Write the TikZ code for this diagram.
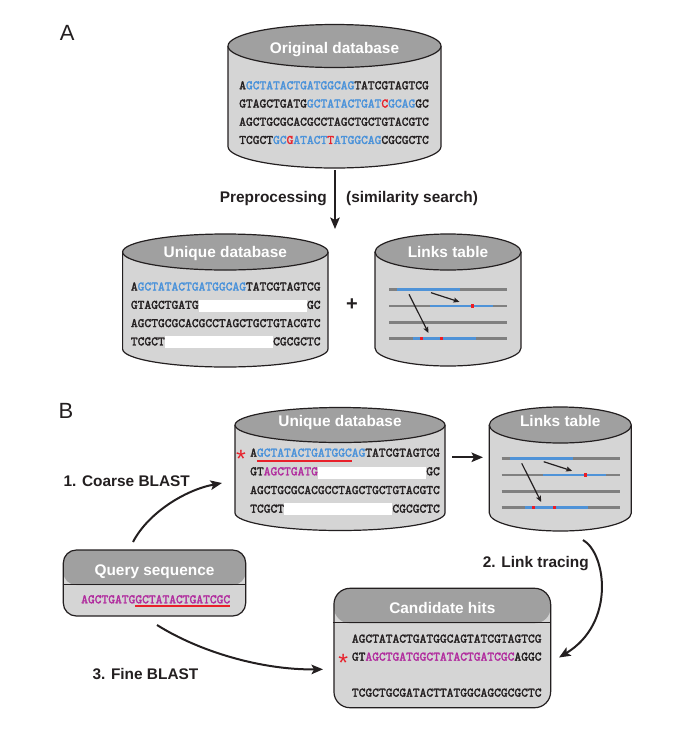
\documentclass[tikz,border=0pt]{standalone}
\usepackage{fontspec}
\setmainfont{Liberation Sans}
\newfontfamily\seqfont{lmmono10-regular.otf}[FakeBold=2.2]
\usetikzlibrary{arrows.meta}
\definecolor{bodyc}{HTML}{D5D5D5}
\definecolor{hdrc}{HTML}{A0A0A0}
\definecolor{outc}{HTML}{231F20}
\definecolor{seqblue}{HTML}{4A92DA}
\definecolor{seqred}{HTML}{E8202A}
\definecolor{seqmag}{HTML}{B12C9E}
\definecolor{lkgrey}{HTML}{808080}
\definecolor{lkblue}{HTML}{4F93D8}
\definecolor{lkred}{HTML}{ED1C24}
\tikzset{
  seq/.style={font=\seqfont\fontsize{12.9}{14}\selectfont, inner sep=0pt, anchor=base west, text=outc},
  ttl/.style={font=\bfseries\fontsize{15.4}{17}\selectfont, text=white, inner sep=0pt, anchor=base},
  lbl/.style={font=\bfseries\fontsize{15.4}{17}\selectfont, text=outc, inner sep=0pt},
  panel/.style={font=\fontsize{22}{24}\selectfont, text=outc, inner sep=0pt, anchor=base},
  star/.style={font=\fontsize{25}{27}\selectfont, text=seqred, inner sep=0pt, anchor=base},
  bigarrow/.style={line width=2pt, draw=outc, -{Stealth[length=11.5pt,width=9.5pt,inset=2.5pt]}},
  smallarrow/.style={line width=1.2pt, draw=outc, -{Stealth[length=6pt,width=5pt,inset=1pt]}},
  gapbar/.style={fill=white, draw=none},
  cylout/.style={draw=outc, line width=1.2pt},
  lkline/.style={line width=2.8pt},
  hitbox/.style={draw=outc, line width=1.2pt, fill=bodyc, inner sep=0pt,
    path picture={\fill[hdrc] ([yshift=2pt]path picture bounding box.north west) rectangle ([yshift=-35pt]path picture bounding box.north east);}},
}
% cx, ytop, ybot, rx, ry
\newcommand{\dbcyl}[5]{%
  \fill[bodyc] ({#1-#4},#2) -- ({#1-#4},#3) arc[start angle=180,end angle=360,x radius=#4pt,y radius=#5pt] -- ({#1+#4},#2) -- cycle;
  \draw[cylout] ({#1-#4},#2) -- ({#1-#4},#3) arc[start angle=180,end angle=360,x radius=#4pt,y radius=#5pt] -- ({#1+#4},#2);
  \filldraw[cylout, fill=hdrc] (#1,#2) ellipse[x radius=#4pt,y radius=#5pt];
}
\newcommand{\linksdraw}[2]{%
  \begin{scope}[shift={(#1,#2)}]
    \foreach \yy in {289.3,306,322.3,338.7} {\draw[lkgrey,lkline] (389,\yy) -- (507.3,\yy);}
    \draw[lkblue,lkline] (397.3,289.3) -- (460,289.3);
    \draw[lkblue,lkline] (430,306) -- (493.3,306);
    \draw[lkblue,lkline] (412.7,338.7) -- (475.7,338.7);
    \fill[lkred] (471.2,304.4) rectangle (474.4,307.6);
    \fill[lkred] (419.5,337.1) rectangle (422.7,340.3);
    \fill[lkred] (439.8,337.1) rectangle (443,340.3);
    \draw[smallarrow] (431,292.7) -- (459.5,301.9);
    \draw[smallarrow] (409,294.3) -- (428.5,333);
  \end{scope}
}
\newcommand{\gapA}{\phantom{AAAAAAAAAAAAAAAA}}
\begin{document}
\begin{tikzpicture}[x=1pt,y=-1pt]
\useasboundingbox (0,0) rectangle (687,729);

% ---------- Panel A ----------
\node[panel] (labA) at (67.3,40) {A};

\dbcyl{334.5}{46}{146.5}{106.5}{21.5}
\node[ttl] (origT) at (334.5,53) {Original database};
\node[seq] (o1) at (239,89.3) {A\textcolor{seqblue}{GCTATACTGATGGCAG}TATCGTAGTCG};
\node[seq] (o2) at (239,107.5) {GTAGCTGATG\textcolor{seqblue}{GCTATACTGAT}\textcolor{seqred}{C}\textcolor{seqblue}{GCAG}GC};
\node[seq] (o3) at (239,125.7) {AGCTGCGCACGCCTAGCTGCTGTACGTC};
\node[seq] (o4) at (239,143.9) {TCGCT\textcolor{seqblue}{GC}\textcolor{seqred}{G}\textcolor{seqblue}{ATACT}\textcolor{seqred}{T}\textcolor{seqblue}{ATGGCAG}CGCGCTC};

\coordinate (pp1) at (335,170);
\coordinate (pp2) at (335,229);
\draw[bigarrow] (pp1) -- (pp2);
\node[lbl, anchor=base east] (ppL) at (327,202.5) {Preprocessing};
\node[lbl, anchor=base west] (ppR) at (346,202.5) {(similarity search)};

\dbcyl{225.3}{252}{349}{102.7}{18}
\node[ttl] (uaT) at (225.3,257) {Unique database};
\fill[gapbar] (198.5,300) rectangle (307.2,311.8);
\fill[gapbar] (164.6,335.8) rectangle (273.4,347.5);
\node[seq] (ua1) at (130.7,290.5) {A\textcolor{seqblue}{GCTATACTGATGGCAG}TATCGTAGTCG};
\node[seq] (ua2) at (130.7,308.8) {GTAGCTGATG\gapA GC};
\node[seq] (ua3) at (130.7,327.1) {AGCTGCGCACGCCTAGCTGCTGTACGTC};
\node[seq] (ua4) at (130.7,345.4) {TCGCT\gapA CGCGCTC};

\node[lbl, font=\bfseries\fontsize{20}{22}\selectfont] (plus) at (352,305) {+};

\dbcyl{448}{252}{348}{73}{18}
\node[ttl] (laT) at (448,257) {Links table};
\linksdraw{0}{0}

% ---------- Panel B ----------
\node[panel] (labB) at (66,418) {B};

\dbcyl{340}{425}{513}{105}{17.5}
\node[ttl] (ubT) at (340,426) {Unique database};
\fill[gapbar] (317.8,466.9) rectangle (426.4,478.5);
\fill[gapbar] (283.9,503.4) rectangle (392.4,515.2);
\node[star] (ast1) at (241,467.5) {*};
\node[seq] (ub1) at (250,456.6) {A\textcolor{seqblue}{GCTATACTGATGGCAG}TATCGTAGTCG};
\draw[seqred, line width=1.5pt] (256.8,461) -- (351.6,461);
\node[seq] (ub2) at (250,475.3) {GT\textcolor{seqmag}{AGCTGATG}\gapA GC};
\node[seq] (ub3) at (250,494) {AGCTGCGCACGCCTAGCTGCTGTACGTC};
\node[seq] (ub4) at (250,512.6) {TCGCT\gapA CGCGCTC};

\dbcyl{560.3}{425}{513}{71}{18}
\node[ttl] (lbT) at (560.3,426) {Links table};
\linksdraw{112.7}{169}

\coordinate (ubE) at (452,457.3);
\coordinate (lbW) at (483,457.3);
\draw[bigarrow] (ubE) -- (lbW);

% Query sequence box
\node[hitbox, rounded corners=13pt, minimum width=182.4pt, minimum height=66pt] (query) at (154.5,583) {};
\draw[outc, line width=1.2pt] ([yshift=-35pt]query.north west) -- ([yshift=-35pt]query.north east);
\node[ttl] (qT) at (154.5,575) {Query sequence};
\node[seq] (q1) at (81,603.3) {\textcolor{seqmag}{AGCTGATGGCTATACTGATCGC}};
\draw[seqred, line width=1.5pt] (135.2,605.8) -- (230.2,605.8);

% Candidate hits box
\node[hitbox, rounded corners=16pt, minimum width=216.7pt, minimum height=119.4pt] (cand) at (442.3,648) {};
\draw[outc, line width=1.2pt] ([yshift=-35pt]cand.north west) -- ([yshift=-35pt]cand.north east);
\node[ttl] (cT) at (442.3,613) {Candidate hits};
\node[seq] (c1) at (351.7,642.6) {AGCTATACTGATGGCAGTATCGTAGTCG};
\node[star] (ast2) at (343.3,671) {*};
\node[seq] (c2) at (351.7,660.6) {GT\textcolor{seqmag}{AGCTGATGGCTATACTGATCGC}AGGC};
\node[seq] (c4) at (351.7,696.6) {TCGCTGCGATACTTATGGCAGCGCGCTC};

% Curved arrows
\coordinate (a1s) at (133,542);
\coordinate (a1e) at (222,483);
\draw[bigarrow] (a1s) .. controls (148,513) and (185,490) .. (a1e);
\node[lbl, anchor=base west] (l1) at (63.3,486) {1. Coarse BLAST};

\coordinate (a2s) at (583,540);
\coordinate (a2e) at (559,657.5);
\draw[bigarrow] (a2s) .. controls (606,553) and (616,623) .. (a2e);
\node[lbl, anchor=base west] (l2) at (482.7,567) {2. Link tracing};

\coordinate (a3s) at (157,625);
\coordinate (a3e) at (323,669.3);
\draw[bigarrow] (a3s) .. controls (200,652) and (262,670) .. (a3e);
\node[lbl, anchor=base west] (l3) at (92.3,679) {3. Fine BLAST};
\end{tikzpicture}
\end{document}
